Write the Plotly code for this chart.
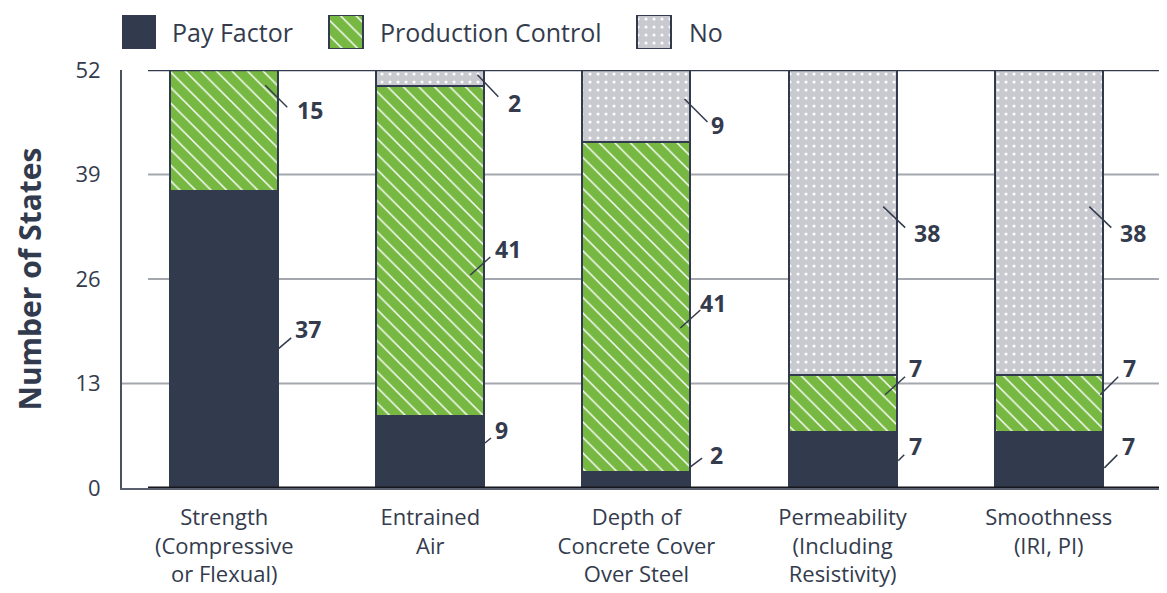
import plotly.graph_objects as go

# ---------------- data ----------------
categories = [
    "Strength<br>(Compressive<br>or Flexual)",
    "Entrained<br>Air",
    "Depth of<br>Concrete Cover<br>Over Steel",
    "Permeability<br>(Including<br>Resistivity)",
    "Smoothness<br>(IRI, PI)",
]
series_names = ["Pay Factor", "Production Control", "No"]
pay_factor = [37, 9, 2, 7, 7]
production_control = [15, 41, 41, 7, 7]
no_values = [0, 2, 9, 38, 38]
y_ticks = [0, 13, 26, 39, 52]

# ---------------- styles / layout ----------------
NAVY = "#323b4d"
GREEN = "#77b843"
GREY = "#c9cacf"
GRID = "#a4a7ae"
TEXT = "#333b4d"
FONT = "Open Sans, Lato, sans-serif"

X_RANGE = [-0.496, 4.574]
BAR_W = 0.524
GRID_X0 = -0.370
MAIN_TOP = 0.8745

series_values = [pay_factor, production_control, no_values]
series_colors = [NAVY, GREEN, GREY]
series_patterns = [
    dict(shape=""),
    dict(shape="\\", fgcolor="white", fgopacity=1, size=11, solidity=0.13, fillmode="overlay"),
    dict(shape=".", fgcolor="white", fgopacity=0.95, size=8, solidity=0.12, fillmode="overlay"),
]

# legend swatch placement (pixel-like units of the legend axis)
legend_x = [137.5, 345.5, 654]
legend_text_x = [170, 378, 687]

# value label placement: (series, category, dx, anchor_y, line_dx, line_dy, text_dx, text_dy)
label_layout = [
    (1, 0, 0.199, 50.1, 22, 22, 45, 25),
    (0, 0, 0.262, 17.3, 13, -11, 30, -20),
    (2, 1, 0.228, 51.4, 21, 22, 37, 28),
    (1, 1, 0.194, 26.5, 20, -18, 38, -26),
    (0, 1, 0.265, 5.6, 6, -5, 17, -13),
    (2, 2, 0.233, 48.4, 23, 23, 33, 26),
    (1, 2, 0.213, 19.9, 20, -18, 33, -25),
    (0, 2, 0.260, 2.6, 12, -9, 26, -12),
    (2, 3, 0.197, 35.0, 22, 21, 44, 26),
    (1, 3, 0.206, 11.6, 20, -18, 30, -27),
    (0, 3, 0.270, 3.4, 6, -6, 17, -15),
    (2, 4, 0.197, 35.0, 22, 21, 44, 26),
    (1, 4, 0.250, 11.6, 18, -18, 29, -27),
    (0, 4, 0.270, 2.5, 13, -13, 24, -22),
]

fig = go.Figure()
xs = list(range(len(categories)))

for name, vals, col, pat in zip(series_names, series_values, series_colors, series_patterns):
    fig.add_trace(go.Bar(
        x=xs, y=vals, name=name, width=BAR_W,
        marker=dict(color=col, line=dict(color=NAVY, width=2), pattern=pat),
        showlegend=False, hoverinfo="skip",
    ))

# legend swatches drawn as bars on a small helper axis
for i, (name, col, pat) in enumerate(zip(series_names, series_colors, series_patterns)):
    fig.add_trace(go.Bar(
        x=[legend_x[i]], y=[1], width=34, xaxis="x2", yaxis="y2",
        marker=dict(color=col, line=dict(color=NAVY, width=2), pattern=pat),
        showlegend=False, hoverinfo="skip", cliponaxis=False,
    ))

shapes = []
# grid lines
for v in y_ticks[1:-1]:
    shapes.append(dict(type="line", xref="x", yref="y",
                       x0=(X_RANGE[0] if v == y_ticks[1] else GRID_X0), x1=X_RANGE[1],
                       y0=v, y1=v, line=dict(color=GRID, width=2), layer="below"))
# top line
shapes.append(dict(type="line", xref="x", yref="y", x0=GRID_X0, x1=X_RANGE[1],
                   y0=y_ticks[-1], y1=y_ticks[-1], line=dict(color=NAVY, width=2.5), layer="above"))
# baseline
shapes.append(dict(type="line", xref="x", yref="y", x0=GRID_X0, x1=X_RANGE[1],
                   y0=0, y1=0, line=dict(color="#15171c", width=3), layer="above"))

annotations = []
for (s, c, dx, ay, ldx, ldy, tdx, tdy) in label_layout:
    xa = c + dx
    shapes.append(dict(type="line", xref="x", yref="y",
                       xsizemode="pixel", ysizemode="pixel",
                       xanchor=xa, yanchor=ay, x0=0, y0=0, x1=ldx, y1=-ldy,
                       line=dict(color=NAVY, width=1.5), layer="above"))
    annotations.append(dict(
        x=xa, y=ay, xref="x", yref="y", showarrow=False,
        text="<b>%d</b>" % series_values[s][c],
        xanchor="center", yanchor="middle", xshift=tdx, yshift=-tdy,
        font=dict(family=FONT, size=23, color=TEXT),
    ))

# legend texts
for i, name in enumerate(series_names):
    annotations.append(dict(
        x=legend_text_x[i], y=0.5, xref="x2", yref="y2", showarrow=False,
        text=name, xanchor="left", yanchor="middle",
        font=dict(family=FONT, size=25, color=TEXT),
    ))

# y-axis title
annotations.append(dict(
    x=-0.0885, y=MAIN_TOP / 2, xref="paper", yref="paper", showarrow=False,
    text="<b>Number of States</b>", textangle=-90,
    xanchor="center", yanchor="middle",
    font=dict(family=FONT, size=30, color=NAVY),
))

# the page places the figure 8px in from the top-left corner
fig.update_layout(
    width=1159, height=585,
    margin=dict(l=114, r=0, t=2, b=105, autoexpand=False),
    paper_bgcolor="white", plot_bgcolor="white",
    barmode="stack", bargap=0,
    font=dict(family=FONT, color=TEXT),
    xaxis=dict(
        domain=[0, 1], range=X_RANGE, tickvals=xs, ticktext=categories,
        showgrid=False, zeroline=False, showline=True, linecolor="#5a6070", linewidth=1.5,
        ticks="", tickfont=dict(family=FONT, size=22, color=TEXT), ticklabelstandoff=9,
        fixedrange=True, automargin=False,
    ),
    yaxis=dict(
        domain=[0, MAIN_TOP], range=[0, 52], tickvals=y_ticks,
        showgrid=False, zeroline=False, showline=True, linecolor="#4a5162", linewidth=2,
        ticks="", tickfont=dict(family=FONT, size=22, color=TEXT), ticklabelstandoff=15,
        fixedrange=True, automargin=False,
    ),
    xaxis2=dict(domain=[0, 1], range=[122, 1167], anchor="y2", visible=False,
                fixedrange=True, automargin=False),
    yaxis2=dict(domain=[0.9184, 0.9895], range=[0, 1], anchor="x2", visible=False,
                fixedrange=True, automargin=False),
    shapes=shapes,
    annotations=annotations,
    showlegend=False,
)

fig.write_html("out.html")
